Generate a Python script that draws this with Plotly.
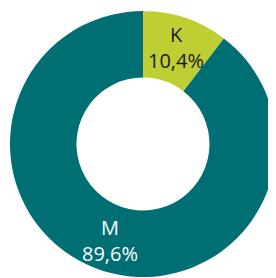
import math
import plotly.graph_objects as go

labels = ["K", "M"]
values = [10.4, 89.6]
colors = ["#bfcf33", "#006f73"]
text_colors = ["#1a1a1a", "#ffffff"]

# page has an 8px body margin; figure sized to fit in the 276x278 window
W, H = 268, 270
cx, cy, r = 135, 136, 133
hole = 0.5
label_r = 102
font_size = 20

fig = go.Figure(go.Pie(
    labels=labels,
    values=values,
    hole=hole,
    sort=False,
    direction="clockwise",
    rotation=0,
    marker=dict(colors=colors, line=dict(width=0)),
    textinfo="none",
    hoverinfo="label+percent",
    domain=dict(x=[(cx - r) / W, (cx + r) / W], y=[(H - cy - r) / H, (H - cy + r) / H]),
    showlegend=False,
))

total = sum(values)
cum = 0.0
annotations = []
for lab, v, tc in zip(labels, values, text_colors):
    mid = (cum + v / 2) / total * 2 * math.pi
    cum += v
    px = cx + label_r * math.sin(mid)
    py = cy - label_r * math.cos(mid)
    pct = f"{v / total * 100:.1f}".replace(".", ",") + "%"
    annotations.append(dict(
        x=px / W, y=(H - py) / H, xref="paper", yref="paper",
        text=f"{lab}<br>{pct}", showarrow=False,
        xanchor="center", yanchor="middle",
        font=dict(family="Open Sans", size=font_size, color=tc),
    ))

fig.update_layout(
    width=W, height=H,
    margin=dict(l=0, r=0, t=0, b=0),
    paper_bgcolor="white",
    separators=",.",
    annotations=annotations,
)
fig.write_html("out.html")
